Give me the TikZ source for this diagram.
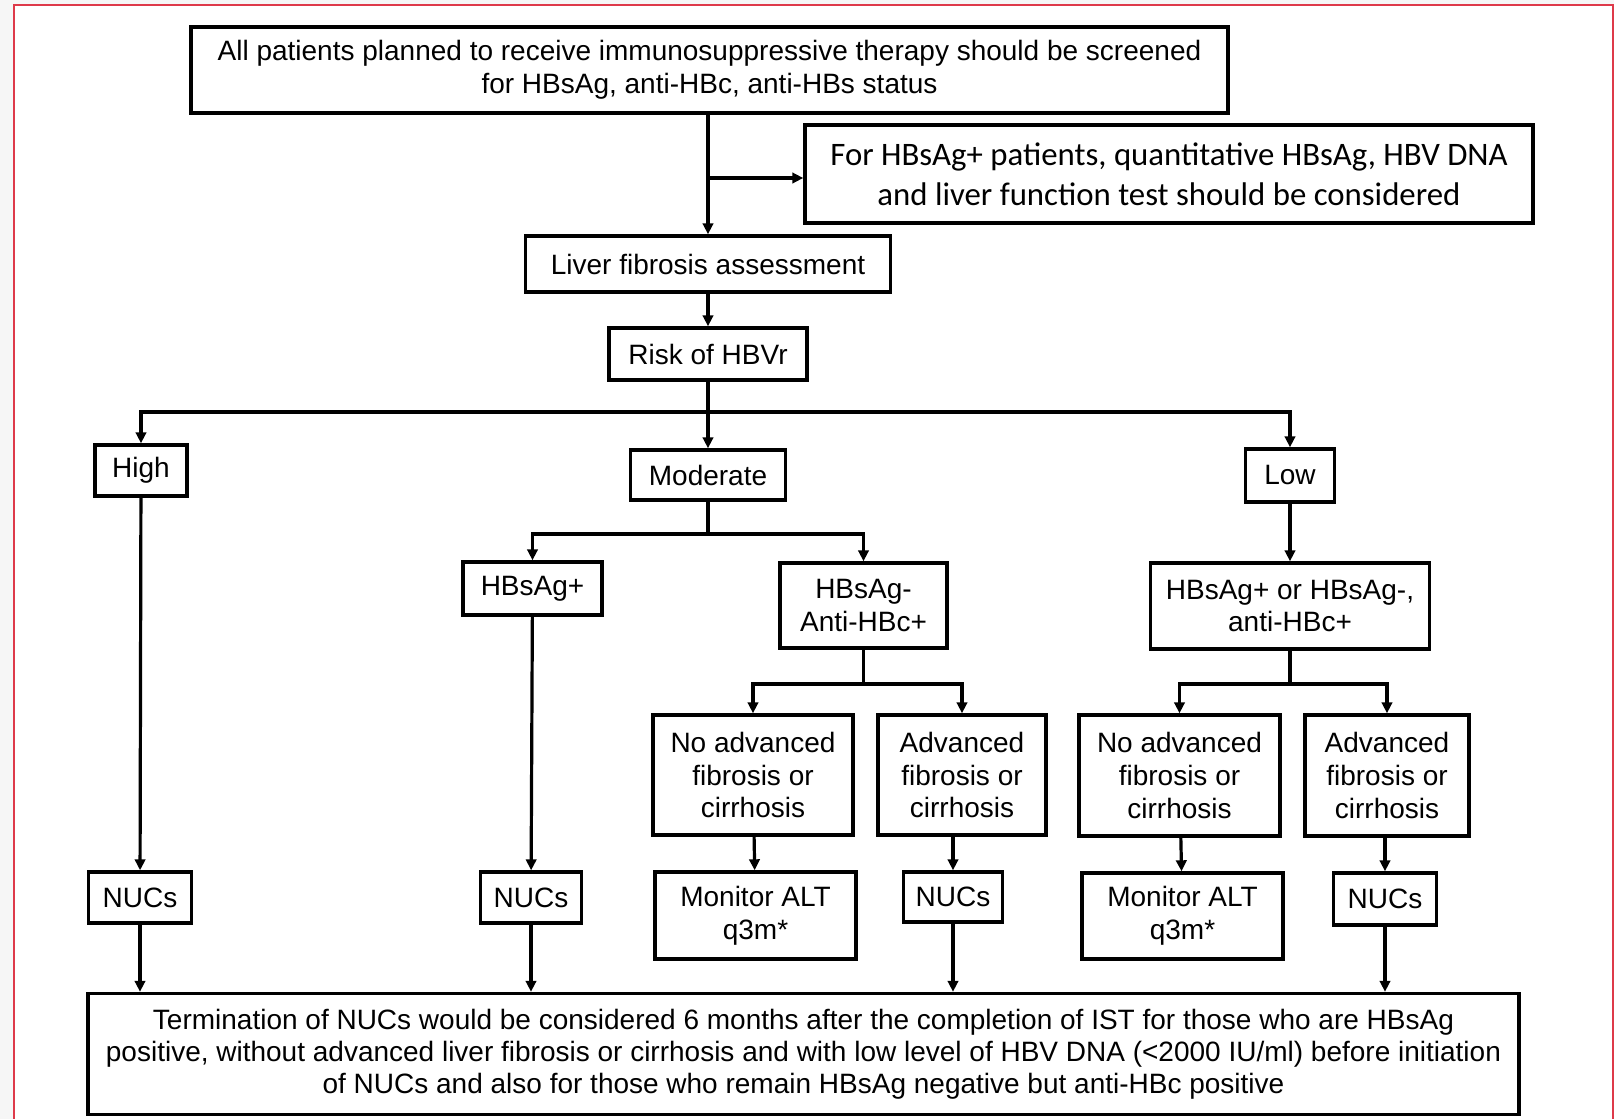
\documentclass[tikz,border=0pt]{standalone}
\usepackage{fontspec}
\setmainfont{Liberation Sans}
\newfontfamily\calibrifont{Carlito}
\usetikzlibrary{arrows.meta,positioning}
\definecolor{frame}{RGB}{222,58,74}
\definecolor{outside}{RGB}{246,246,246}

\begin{document}
\begin{tikzpicture}[x=0.5pt, y=-0.5pt, >={Triangle[length=5.5pt,width=5.2pt]},
  block/.style={draw, line width=1.7pt, inner sep=0pt, align=center, font=\fontsize{14}{16.3}\selectfont},
  sz/.style 2 args={minimum width=0.5*#1pt, minimum height=0.5*#2pt},
  link/.style={line width=1.6pt}]
\useasboundingbox (0,0) rectangle (1614,1119);
\fill[outside] (0,0) rectangle (1614,1119);
\fill[white] (14,5) rectangle (1613,1119);
\draw[frame, line width=1.3pt] (14,1119) -- (14,5) -- (1613,5) -- (1613,1119);

\node[block, sz={1037}{86}, font=\fontsize{14}{16.5}\selectfont] (screen) at (709.5,70) {All patients planned to receive immunosuppressive therapy should be screened\\for HBsAg, anti-HBc, anti-HBs status};
\node[block, sz={728}{98}, font=\calibrifont\fontsize{16.4}{19.8}\selectfont] (quant) at (1169,174) {For HBsAg+ patients, quantitative HBsAg, HBV DNA\\and liver function test should be considered};
\node[block, sz={365}{56}] (liver) at (708,264) {Liver fibrosis assessment};
\node[block, sz={198}{52}] (risk) at (708,354) {Risk of HBVr};
\node[block, sz={92}{51}] (high) at (141,470.5) {\raisebox{-2pt}{High}};
\node[block, sz={155}{50}] (moderate) at (708,475) {Moderate};
\node[block, sz={89}{53}] (low) at (1290,475.5) {Low};
\node[block, sz={139}{53}] (posM) at (532.5,588.5) {HBsAg+};
\node[block, sz={167}{85}] (negM) at (863.5,605.5) {HBsAg-\\Anti-HBc+};
\node[block, sz={279}{86}] (anyL) at (1290,606) {HBsAg+ or HBsAg-,\\anti-HBc+};
\node[block, sz={200}{120}] (noadvM) at (753,775) {No advanced\\fibrosis or\\cirrhosis};
\node[block, sz={168}{120}] (advM) at (962,775) {Advanced\\fibrosis or\\cirrhosis};
\node[block, sz={201}{121}] (noadvL) at (1179.5,775.5) {No advanced\\fibrosis or\\cirrhosis};
\node[block, sz={164}{121}] (advL) at (1387,775.5) {Advanced\\fibrosis or\\cirrhosis};
\node[block, sz={103}{51}] (nucH) at (140,897.5) {NUCs};
\node[block, sz={101}{51}] (nucP) at (531,897.5) {NUCs};
\node[block, sz={201}{87}] (monM) at (755.5,915.5) {Monitor ALT\\q3m*};
\node[block, sz={99}{50}] (nucM) at (953,897) {NUCs};
\node[block, sz={201}{86}] (monL) at (1182.5,916) {Monitor ALT\\q3m*};
\node[block, sz={103}{52}] (nucL) at (1385,899) {NUCs};
\node[block, sz={1431}{121}, font=\fontsize{14}{16}\selectfont] (stop) at (803.5,1054) {Termination of NUCs would be considered 6 months after the completion of IST for those who are HBsAg\\positive, without advanced liver fibrosis or cirrhosis and with low level of HBV DNA (<2000 IU/ml) before initiation\\of NUCs and also for those who remain HBsAg negative but anti-HBc positive};

\coordinate (side) at (708,178);
\coordinate (fork) at (708,412);
\coordinate (forkM) at (708,534);
\coordinate (forkN) at (863.5,684);
\coordinate (forkL) at (1290,684);

\draw[link,->] (screen.south -| liver.north) -- (liver);
\draw[link,->] (side) -- (side -| quant.west);
\draw[link,->] (liver) -- (risk);
\draw[link] (risk) -- (fork);
\draw[link,->] (fork) -| (high);
\draw[link,->] (fork) -- (moderate);
\draw[link,->] (fork) -| (low);
\draw[link] (moderate) -- (forkM);
\draw[link,->] (forkM) -| (posM);
\draw[link,->] (forkM) -| (negM);
\draw[link] (negM) -- (forkN);
\draw[link,->] (forkN) -| (noadvM);
\draw[link,->] (forkN) -| (advM);
\draw[link,->] (low) -- (anyL);
\draw[link] (anyL) -- (forkL);
\draw[link,->] (forkL) -| (noadvL);
\draw[link,->] (forkL) -| (advL);
\draw[link,->] (high) -- (nucH);
\draw[link,->] (posM) -- (nucP);
\draw[link,->] (noadvM) -- (monM);
\draw[link,->] (nucM |- advM.south) -- (nucM);
\draw[link,->] (noadvL) -- (monL);
\draw[link,->] (nucL |- advL.south) -- (nucL);
\draw[link,->] (nucH) -- (nucH |- stop.north);
\draw[link,->] (nucP) -- (nucP |- stop.north);
\draw[link,->] (nucM) -- (nucM |- stop.north);
\draw[link,->] (nucL) -- (nucL |- stop.north);
\end{tikzpicture}
\end{document}
